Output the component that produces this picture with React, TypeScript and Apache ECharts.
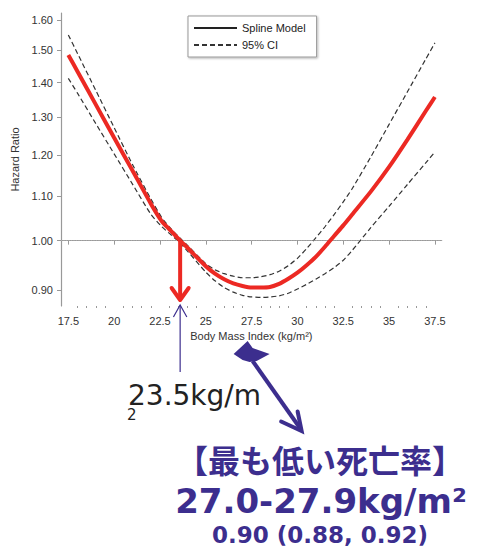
import React, { useEffect, useRef } from "react";
import * as echarts from "echarts";

// ---- data ----
const bmi = [17.5, 18, 19, 20, 21, 22, 22.6, 23, 23.6, 24, 25, 25.5, 26, 26.5, 27, 27.5, 28, 28.5, 29, 29.5, 30, 30.5, 31, 31.5, 32, 32.5, 33, 34, 35, 36, 37, 37.5];
const splineHR = [1.485, 1.434, 1.336, 1.245, 1.161, 1.082, 1.042, 1.025, 1.0, 0.985, 0.947, 0.932, 0.921, 0.913, 0.908, 0.905, 0.905, 0.906, 0.912, 0.922, 0.934, 0.949, 0.966, 0.987, 1.01, 1.033, 1.058, 1.11, 1.17, 1.24, 1.318, 1.358];
const upperHR = [1.55, 1.49, 1.377, 1.272, 1.176, 1.093, 1.05, 1.03, 1.005, 0.99, 0.952, 0.94, 0.932, 0.927, 0.924, 0.924, 0.926, 0.93, 0.937, 0.948, 0.963, 0.983, 1.006, 1.03, 1.057, 1.086, 1.118, 1.195, 1.281, 1.373, 1.472, 1.524];
const lowerHR = [1.413, 1.369, 1.283, 1.203, 1.128, 1.058, 1.03, 1.016, 0.995, 0.978, 0.935, 0.918, 0.905, 0.896, 0.89, 0.887, 0.886, 0.887, 0.889, 0.894, 0.902, 0.911, 0.921, 0.932, 0.944, 0.959, 0.98, 1.028, 1.076, 1.127, 1.18, 1.208];
const xTicks = [17.5, 20, 22.5, 25, 27.5, 30, 32.5, 35, 37.5];
const yTicks = [0.9, 1.0, 1.1, 1.2, 1.3, 1.4, 1.5, 1.6];
const refHR = 1.0;
const crossBMI = 23.6;
const optimumBMI = 27.5;
const xMin = 17.1;
const xMax = 37.87;
const yMin = 0.87;
const yMax = 1.624;

const RED = "#ec2923";
const IND = "#3c2e8e";
const AX = "#999";
const FONT = "'Liberation Sans', Arial, sans-serif";

const minorTicks: number[] = [];
for (let i = 0; i < xTicks.length - 1; i++) {
  const a = xTicks[i];
  const b = xTicks[i + 1];
  for (let k = 1; k < 5; k++) minorTicks.push(a + ((b - a) * k) / 5);
}

const pairs = (vals: number[]) => bmi.map((x, i) => [x, Math.log(vals[i])]);

export default function App() {
  const ref = useRef<HTMLDivElement>(null);
  useEffect(() => {
    if (!ref.current) return;
    const chart = echarts.init(ref.current, null, { renderer: "svg" });
    const option: any = {
      animation: false,
      backgroundColor: "#fff",
      grid: { left: 61, right: 37.3, top: 13, bottom: 241, containLabel: false },
      legend: {
        data: ["Spline Model", "95% CI"],
        orient: "vertical",
        left: 188,
        top: 16,
        padding: [6.5, 11, 6.5, 5],
        itemGap: 6,
        itemWidth: 43,
        itemHeight: 11,
        backgroundColor: "#fff",
        borderColor: "#999",
        borderWidth: 1,
        shadowColor: "rgba(0,0,0,0.3)",
        shadowBlur: 2,
        shadowOffsetX: 1,
        shadowOffsetY: 1,
        selectedMode: false,
        itemStyle: { opacity: 0 },
        textStyle: { fontSize: 11, color: "#222", fontFamily: FONT },
      },
      xAxis: [
        {
          type: "value",
          min: xMin,
          max: xMax,
          name: "Body Mass Index (kg/m²)",
          nameLocation: "middle",
          nameGap: 22,
          nameTextStyle: { fontSize: 11, color: "#333", fontFamily: FONT },
          axisLine: { show: true, lineStyle: { color: AX, width: 1.2 } },
          axisTick: { show: true, customValues: xTicks, length: 4, lineStyle: { color: AX } },
          axisLabel: {
            customValues: xTicks,
            margin: 9,
            fontSize: 11,
            color: "#333",
            fontFamily: FONT,
            formatter: (v: number) => String(v),
          },
          splitLine: { show: false },
        },
        {
          type: "value",
          min: xMin,
          max: xMax,
          position: "bottom",
          axisLine: { show: false },
          axisTick: { show: true, customValues: minorTicks, length: 2, lineStyle: { color: AX } },
          axisLabel: { show: false },
          splitLine: { show: false },
        },
      ],
      yAxis: {
        type: "value",
        min: Math.log(yMin),
        max: Math.log(yMax),
        name: "Hazard Ratio",
        nameLocation: "middle",
        nameGap: 36,
        nameTextStyle: { fontSize: 11, color: "#333", fontFamily: FONT },
        axisLine: { show: true, lineStyle: { color: AX, width: 1.2 } },
        axisTick: { show: true, customValues: yTicks.map((v) => Math.log(v)), length: 4, lineStyle: { color: AX } },
        axisLabel: {
          customValues: yTicks.map((v) => Math.log(v)),
          margin: 8,
          fontSize: 11,
          color: "#333",
          fontFamily: FONT,
          formatter: (v: number) => Math.exp(v).toFixed(2),
        },
        splitLine: { show: false },
      },
      series: [
        {
          name: "95% CI",
          type: "line",
          data: pairs(upperHR),
          smooth: 0.2,
          symbol: "none",
          lineStyle: { color: "#333", width: 1.2, type: [5, 3] },
          markLine: {
            silent: true,
            symbol: ["none", "none"],
            label: { show: false },
            lineStyle: { color: "#aaa", width: 1, type: [1, 1.5] },
            data: [{ yAxis: Math.log(refHR) }],
          },
        },
        {
          name: "95% CI",
          type: "line",
          data: pairs(lowerHR),
          smooth: 0.2,
          symbol: "none",
          lineStyle: { color: "#333", width: 1.2, type: [5, 3] },
        },
        {
          name: "Spline Model",
          type: "line",
          data: pairs(splineHR),
          smooth: 0.2,
          symbol: "none",
          lineStyle: { color: "#222", width: 1 },
        },
        {
          name: "Spline highlight",
          type: "line",
          data: pairs(splineHR),
          smooth: 0.2,
          symbol: "none",
          z: 5,
          lineStyle: { color: RED, width: 4 },
        },
      ],
    };
    chart.setOption(option);

    const p = (x: number, y: number) =>
      chart.convertToPixel({ xAxisIndex: 0, yAxisIndex: 0 }, [x, Math.log(y)]) as number[];
    const [cx, cy] = p(crossBMI, refHR);
    const axisY = p(crossBMI, yMin)[1];
    const ox = p(optimumBMI, refHR)[0];
    const sy = axisY + 48;

    chart.setOption({
      graphic: [
        { type: "line", z: 100, shape: { x1: cx, y1: cy, x2: cx, y2: axisY - 7 }, style: { stroke: RED, lineWidth: 4 } },
        {
          type: "polyline",
          z: 100,
          shape: { points: [[cx - 8.5, axisY - 18], [cx, axisY - 6], [cx + 8.5, axisY - 18]] },
          style: { stroke: RED, lineWidth: 4, fill: null, lineJoin: "round", lineCap: "round" },
        },
        { type: "line", z: 100, shape: { x1: cx, y1: axisY - 1, x2: cx, y2: axisY + 66 }, style: { stroke: IND, lineWidth: 1.2 } },
        {
          type: "polyline",
          z: 100,
          shape: { points: [[cx - 6.7, axisY + 11], [cx, axisY - 1], [cx + 6.7, axisY + 11]] },
          style: { stroke: IND, lineWidth: 1.2, fill: null },
        },
        {
          type: "polygon",
          z: 100,
          shape: { points: [[ox - 18, sy], [ox - 4, sy - 13], [ox + 1, sy - 6], [ox + 18, sy], [ox + 5, sy + 7], [ox - 2, sy + 8], [ox - 9, sy + 6]] },
          style: { fill: IND },
        },
        { type: "line", z: 100, shape: { x1: ox + 1, y1: sy + 7, x2: ox + 49, y2: sy + 75 }, style: { stroke: IND, lineWidth: 4 } },
        {
          type: "polyline",
          z: 100,
          shape: { points: [[ox + 29.5, sy + 67.5], [ox + 50, sy + 77], [ox + 46, sy + 57.5]] },
          style: { stroke: IND, lineWidth: 4, fill: null, lineJoin: "miter", lineCap: "round" },
        },
        {
          type: "text",
          z: 100,
          style: { text: "23.5kg/m", x: 128, y: 395.5, fill: "#222", fontSize: 28, fontFamily: "'DejaVu Sans', sans-serif", align: "left", verticalAlign: "middle" },
        },
        {
          type: "text",
          z: 100,
          style: { text: "2", x: 127, y: 414.5, fill: "#222", fontSize: 15, fontFamily: "'DejaVu Sans', sans-serif", align: "left", verticalAlign: "middle" },
        },
        {
          type: "text",
          z: 100,
          style: { text: "【最も低い死亡率】", x: 320, y: 459, fill: IND, fontSize: 32, fontWeight: "bold", fontFamily: "'Noto Sans CJK JP', sans-serif", align: "center", verticalAlign: "middle" },
        },
        {
          type: "text",
          z: 100,
          style: { text: "27.0-27.9kg/m²", x: 321, y: 501, fill: IND, fontSize: 34, fontWeight: "bold", fontFamily: "'DejaVu Sans', sans-serif", align: "center", verticalAlign: "middle" },
        },
        {
          type: "text",
          z: 100,
          style: { text: "0.90 (0.88, 0.92)", x: 320, y: 535, fill: IND, fontSize: 23, fontWeight: "bold", fontFamily: "'DejaVu Sans', sans-serif", align: "center", verticalAlign: "middle" },
        },
      ],
    });
    return () => chart.dispose();
  }, []);
  return <div ref={ref} style={{ position: "fixed", left: 0, top: 0, width: 479, height: 547 }} />;
}
